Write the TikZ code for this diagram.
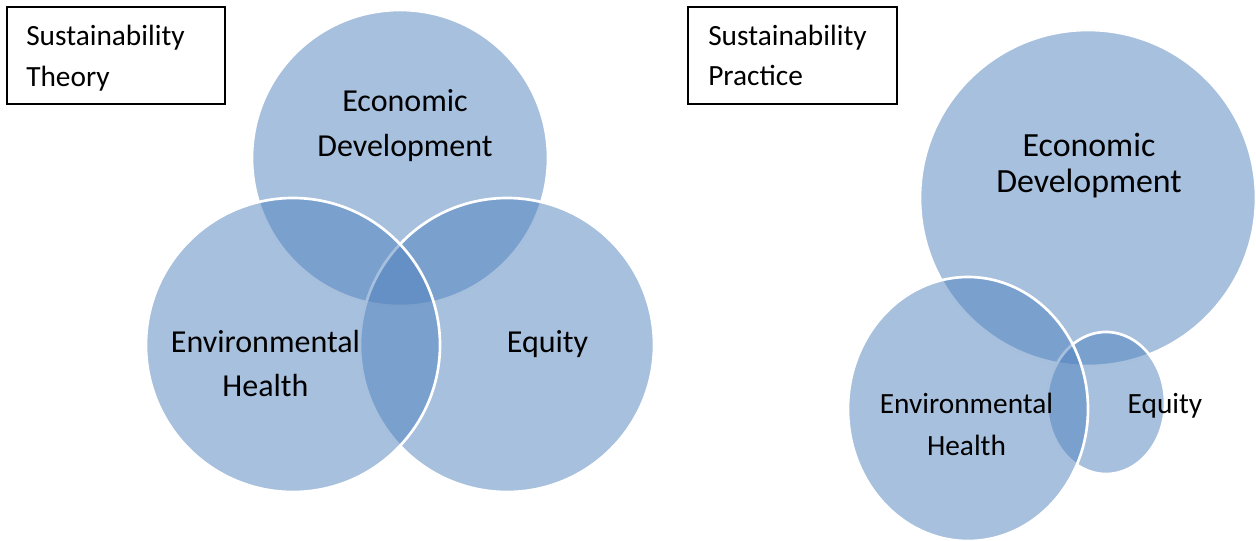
\documentclass[tikz,border=0pt]{standalone}
\usepackage{fontspec}
\setmainfont{Carlito}
\definecolor{vennblue}{RGB}{79, 129, 189}
\usetikzlibrary{positioning}

\begin{document}
\begin{tikzpicture}[x=0.75pt, y=-0.75pt,
    venn/.style={fill=vennblue, fill opacity=0.5, draw=white, draw opacity=1, line width=2pt},
    titlebox/.style={draw=black, line width=0.9pt, minimum height=72.75pt, inner sep=0pt},
    lbl/.style={align=center, anchor=base, inner sep=0pt, text=black}]
  \useasboundingbox (0, 0) rectangle (1256, 541);

  % Theory: three equal circles
  \filldraw[venn] (400, 158) circle[radius=148];
  \filldraw[venn] (507, 345) circle[radius=147];
  \filldraw[venn] (293, 345) circle[radius=147];

  \node (econL) [lbl, font=\fontsize{24}{33.75}\selectfont] at (405, 157) {Economic\\Development};
  \node (envL) [lbl, font=\fontsize{24}{33}\selectfont] at (265.5, 397) {Environmental\\Health};
  \node (eqL) [lbl, font=\fontsize{24}{33}\selectfont] at (547.5, 353) {Equity};

  % Practice: economy dominates
  \filldraw[venn] (1088, 198) circle[radius=168];
  \filldraw[venn] (1106, 403) ellipse[x radius=59, y radius=71];
  \filldraw[venn] (968, 409) ellipse[x radius=120, y radius=132];

  \node (econR) [lbl, font=\fontsize{25.4}{27}\selectfont] at (1089, 193) {Economic\\Development};
  \node (envR) [lbl, font=\fontsize{22}{31.5}\selectfont] at (966.5, 455) {Environmental\\Health};
  \node (eqR) [lbl, font=\fontsize{22}{31.5}\selectfont] at (1165, 413) {Equity};

  % Title boxes
  \node (theoryBox) [titlebox, minimum width=163.5pt] at (116, 55.5) {};
  \node (theoryText) [anchor=base west, align=left, inner sep=0pt,
    font=\fontsize{22}{31}\selectfont] at (26, 87) {Sustainability\\Theory};
  \node (practiceBox) [titlebox, minimum width=156.75pt] at (792.5, 55.5) {};
  \node (practiceText) [anchor=base west, align=left, inner sep=0pt,
    font=\fontsize{22}{30}\selectfont] at (708, 86) {Sustainability\\Practice};
\end{tikzpicture}
\end{document}
